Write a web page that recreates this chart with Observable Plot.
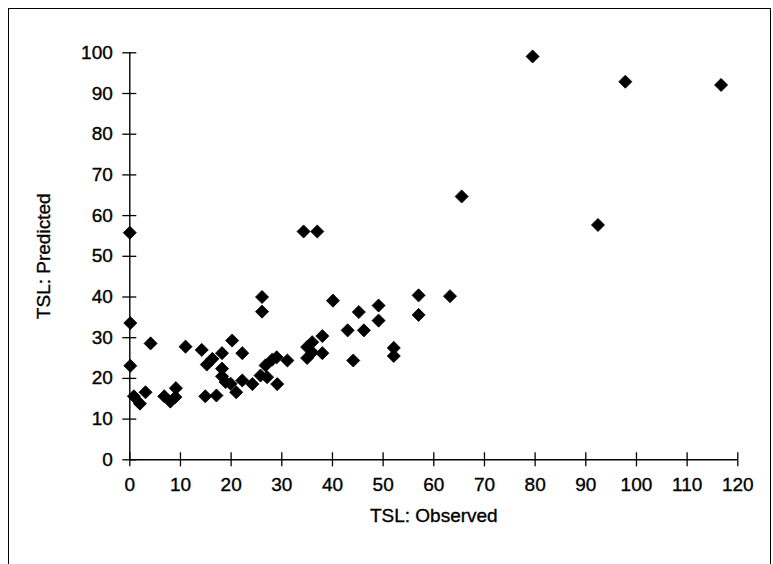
<!DOCTYPE html>
<html><head><meta charset="utf-8">
<script src="https://cdn.jsdelivr.net/npm/d3@7"></script>
<script src="https://cdn.jsdelivr.net/npm/@observablehq/plot@0.6"></script>
<style>
html,body{margin:0;padding:0;background:#fff;overflow:hidden;}
#wrap{position:relative;width:773px;height:564px;}
#frame{position:absolute;left:8px;top:8px;width:763px;height:600px;border:1.5px solid #000;border-bottom:none;box-sizing:border-box;pointer-events:none}
#chart text{stroke:#000;stroke-width:0.35px;}
</style></head><body><div id="wrap"><div id="chart"></div><div id="frame"></div></div>
<script>
const observed = [
  0, 0.1, 0.1, 0.8, 2.0, 3.1, 4.1, 6.8, 8.0, 9.0, 9.1, 11.0,
  14.2, 15.2, 14.9, 16.3, 17.1, 18.2, 18.2, 18.2, 18.9, 19.9, 20.2, 21.0, 22.2, 22.2, 24.2,
  25.8, 26.1, 26.1, 27.1, 26.8, 28.1, 29.0, 29.1, 31.1,
  34.3, 35.0, 36.0, 36.0, 35.0, 37.0, 38.0, 38.0, 40.1, 43.0, 44.1, 45.2, 46.2,
  49.1, 49.1, 52.1, 52.1, 57.0, 57.0, 63.2, 65.5, 79.5, 92.4, 97.8, 116.7
];
const predicted = [
  55.8, 33.6, 23.1, 15.6, 13.8, 16.6, 28.6, 15.6, 14.3, 15.4, 17.6, 27.8,
  27.0, 23.4, 15.6, 24.8, 15.8, 26.2, 22.4, 20.5, 19.1, 18.7, 29.3, 16.6, 26.2, 19.5, 18.6,
  20.7, 40.0, 36.4, 20.3, 23.2, 24.6, 25.2, 18.6, 24.4,
  56.1, 27.7, 28.9, 26.4, 25.0, 56.1, 30.4, 26.2, 39.1, 31.8, 24.4, 36.3, 31.8,
  37.9, 34.2, 27.5, 25.5, 40.4, 35.6, 40.2, 64.7, 99.1, 57.7, 92.9, 92.1
];
const xTicks = [0, 10, 20, 30, 40, 50, 60, 70, 80, 90, 100, 110, 120];
const yTicks = [0, 10, 20, 30, 40, 50, 60, 70, 80, 90, 100];
const xTitle = "TSL: Observed";
const yTitle = "TSL: Predicted";

const data = observed.map((o, i) => ({obs: o, pred: predicted[i]}));

const chart = Plot.plot({
  width: 773,
  height: 564,
  marginLeft: 129.3,
  marginRight: 35.7,
  marginTop: 52.3,
  marginBottom: 104.7,
  x: {domain: [0, 120]},
  y: {domain: [0, 100]},
  style: {fontFamily: "'Liberation Sans', Arial, sans-serif", fontSize: "19px", color: "#000", background: "transparent"},
  marks: [
    Plot.ruleX([0], {stroke: "#000", strokeWidth: 1.4}),
    Plot.ruleY([0], {stroke: "#000", strokeWidth: 1.4}),
    Plot.axisX(xTicks, {tickSize: 14, dy: -7, tickFormat: () => "", label: null, strokeWidth: 1.3}),
    Plot.axisX(xTicks, {tickSize: 0, tickPadding: 18, label: xTitle, labelAnchor: "center", labelOffset: 62, labelArrow: "none"}),
    Plot.axisY(yTicks, {tickSize: 14, dx: 7, tickFormat: () => "", label: null, strokeWidth: 1.3}),
    Plot.axisY(yTicks, {tickSize: 0, tickPadding: 17, label: yTitle, labelAnchor: "center", labelOffset: 93, labelArrow: "none"}),
    Plot.dot(data, {x: "obs", y: "pred", symbol: "diamond2", r: 5.9, fill: "#000", stroke: "#000", strokeWidth: 0.8, strokeLinejoin: "round"})
  ]
});
document.getElementById("chart").appendChild(chart);
</script>
</body></html>
